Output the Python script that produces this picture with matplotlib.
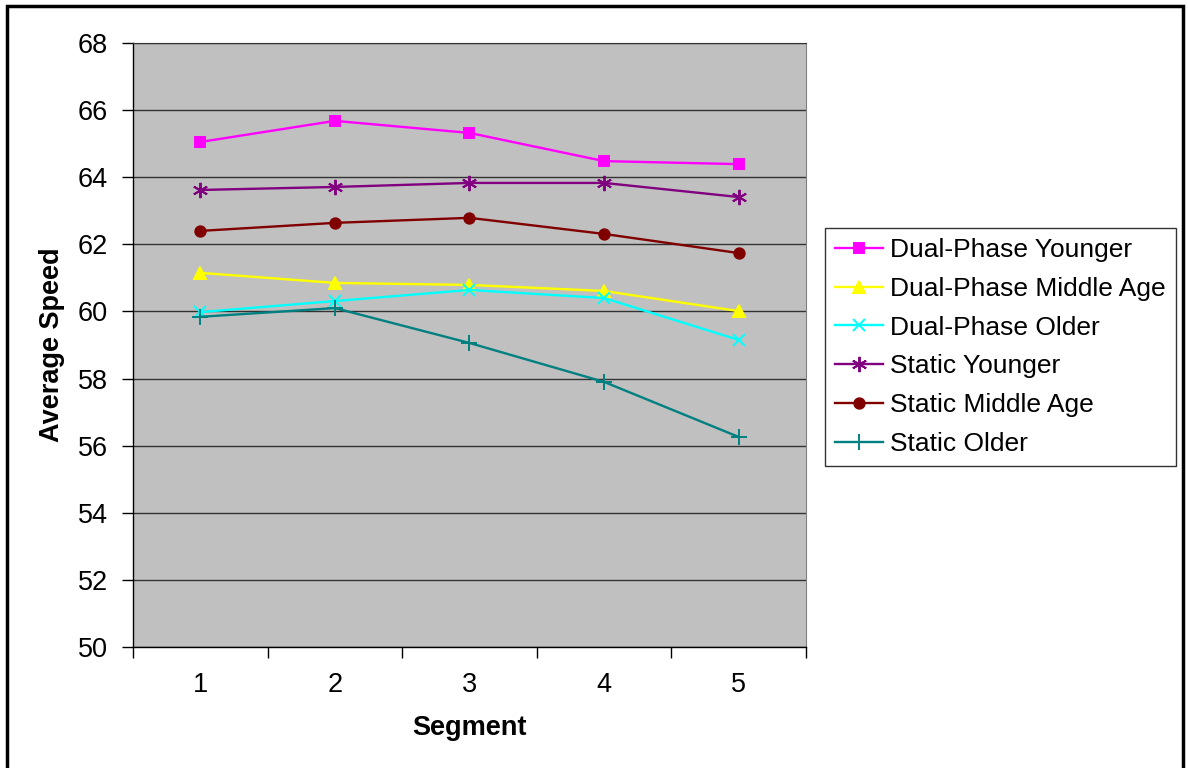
import matplotlib.pyplot as plt
from matplotlib.patches import Rectangle

plt.rcParams['font.family'] = ['Liberation Sans', 'DejaVu Sans']

# Data
segments = [1, 2, 3, 4, 5]
dual_younger = [65.05, 65.68, 65.32, 64.48, 64.39]
dual_middle = [61.15, 60.85, 60.79, 60.61, 60.01]
dual_older = [59.98, 60.31, 60.64, 60.40, 59.15]
static_younger = [63.62, 63.71, 63.83, 63.83, 63.41]
static_middle = [62.40, 62.64, 62.79, 62.31, 61.74]
static_older = [59.84, 60.10, 59.06, 57.90, 56.26]

series_names = ['Dual-Phase Younger', 'Dual-Phase Middle Age', 'Dual-Phase Older',
                'Static Younger', 'Static Middle Age', 'Static Older']

fig = plt.figure(figsize=(11.88, 7.68), dpi=100)
ax = fig.add_axes([133 / 1188, 1 - 647 / 768, (806 - 133) / 1188, (647 - 43) / 768])
ax.set_facecolor('#C0C0C0')

# (values, color, marker, size)
styles = [
    (dual_younger, '#FF00FF', 's', 7.5),
    (dual_middle, '#FFFF00', '^', 8.5),
    (dual_older, '#00FFFF', 'x', 9),
    (static_younger, '#800080', (6, 2, 0), 11),
    (static_middle, '#800000', 'o', 7.5),
    (static_older, '#008080', '+', 11),
]
for (vals, col, mk, ms), name in zip(styles, series_names):
    ax.plot(segments, vals, color=col, marker=mk, markersize=ms, linewidth=1.7,
            markeredgewidth=1.4, markerfacecolor=col, markeredgecolor=col, label=name)

ax.set_xlim(0.5, 5.5)
ax.set_ylim(50, 68)
ax.set_yticks(range(50, 69, 2))
ax.yaxis.grid(True, color='#333333', linewidth=1)
ax.set_axisbelow(True)

# Excel-style category ticks between groups, labels at centers
ax.set_xticks([0.5, 1.5, 2.5, 3.5, 4.5, 5.5])
ax.set_xticklabels([])
ax.set_xticks(segments, minor=True)
ax.set_xticklabels([str(s) for s in segments], minor=True)
ax.tick_params(axis='x', which='minor', length=0, pad=18, labelsize=19.5)
ax.tick_params(axis='x', which='major', length=8, width=1, direction='out')
ax.tick_params(axis='y', length=8, width=1, direction='out', pad=10, labelsize=19.5)

for s in ['left', 'bottom']:
    ax.spines[s].set_color('black')
    ax.spines[s].set_linewidth(1)
ax.spines['top'].set_color('#333333')
ax.spines['right'].set_color('#808080')

ax.set_ylabel('Average Speed', fontsize=19.5, fontweight='bold', labelpad=9)
ax.set_xlabel('Segment', fontsize=19.5, fontweight='bold', labelpad=12)

leg = ax.legend(loc='upper left', bbox_to_anchor=(825 / 1188, 1 - 228 / 768),
                bbox_transform=fig.transFigure, borderaxespad=0, fontsize=19,
                frameon=True, fancybox=False, handlelength=1.8, labelspacing=0.56,
                handletextpad=0.3, borderpad=0.38)
leg.get_frame().set_edgecolor('black')
leg.get_frame().set_linewidth(1)

# outer chart frame
fig.patches.append(Rectangle((7 / 1188, -0.05), (1183 - 7) / 1188, 1.05 - 6 / 768,
                             transform=fig.transFigure, fill=False,
                             edgecolor='black', linewidth=2.5))

fig.savefig('out.png', dpi=100)
